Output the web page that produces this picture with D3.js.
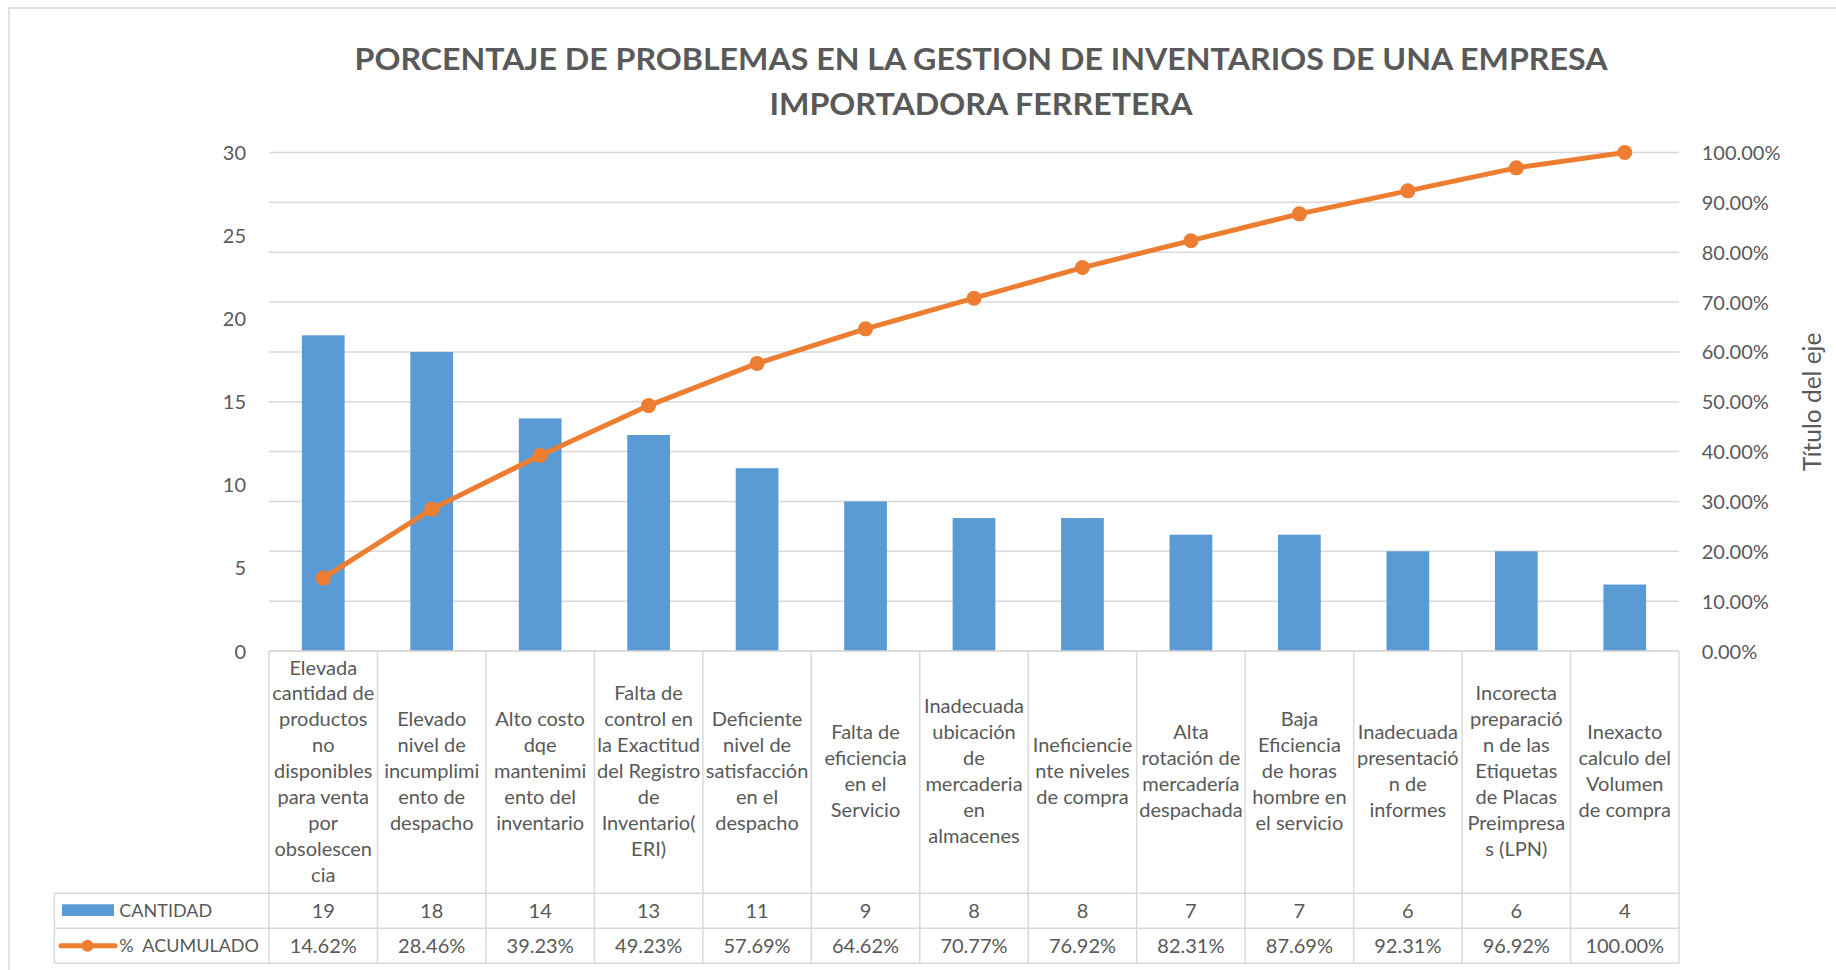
<!DOCTYPE html>
<html>
<head>
<meta charset="utf-8">
<script src="https://cdn.jsdelivr.net/npm/d3@7"></script>
<style>
  html, body { margin: 0; padding: 0; background: #ffffff; }
  svg { display: block; font-family: Lato, "Open Sans", sans-serif; }
  text { white-space: pre; }
</style>
</head>
<body>
<svg id="chart" width="1836" height="970"></svg>
<script>
// ---------- data ----------
const titleLines = ["PORCENTAJE DE PROBLEMAS EN LA GESTION DE INVENTARIOS DE UNA EMPRESA", "IMPORTADORA FERRETERA"];
const categories = [
  ["Elevada","cantidad de","productos","no","disponibles","para venta","por","obsolescen","cia"],
  ["Elevado","nivel de","incumplimi","ento de","despacho"],
  ["Alto costo","dqe","mantenimi","ento del","inventario"],
  ["Falta de","control en","la Exactitud","del Registro","de","Inventario(","ERI)"],
  ["Deficiente","nivel de","satisfacción","en el","despacho"],
  ["Falta de","eficiencia","en el","Servicio"],
  ["Inadecuada","ubicación","de","mercaderia","en","almacenes"],
  ["Ineficiencie","nte niveles","de compra"],
  ["Alta","rotación de","mercadería","despachada"],
  ["Baja","Eficiencia","de horas","hombre en","el servicio"],
  ["Inadecuada","presentació","n de","informes"],
  ["Incorecta","preparació","n de las","Etiquetas","de Placas","Preimpresa","s (LPN)"],
  ["Inexacto","calculo del","Volumen","de compra"]
];
const cantidad = [19, 18, 14, 13, 11, 9, 8, 8, 7, 7, 6, 6, 4];
const acumulado = [14.62, 28.46, 39.23, 49.23, 57.69, 64.62, 70.77, 76.92, 82.31, 87.69, 92.31, 96.92, 100.00];
const leftTicks = [0, 5, 10, 15, 20, 25, 30];
const rightTicks = [0, 10, 20, 30, 40, 50, 60, 70, 80, 90, 100];
const seriesNames = ["CANTIDAD", "%  ACUMULADO"];
const rightAxisTitle = "Título del eje";

// ---------- layout ----------
const TEXT = "#595959", GRID = "#d9d9d9", BLUE = "#5B9BD5", ORANGE = "#ED7D31";
const plotL = 269, plotR = 1679, plotT = 152.5, plotB = 651;
const catRowB = 893.3, row1B = 928.3, row2B = 963.3, legendL = 54.4;
const titleWidths = [1253, 423];

const svg = d3.select("#chart");
const idx = d3.range(categories.length);

const xCol = d3.scaleBand().domain(idx).range([plotL, plotR]).padding(0);
const xBar = d3.scaleBand().domain(idx).range([plotL, plotR]).paddingInner(0.606).paddingOuter(0.303);
const yL = d3.scaleLinear().domain([0, 30]).range([plotB, plotT]);
const yR = d3.scaleLinear().domain([0, 100]).range([plotB, plotT]);

// chart border
svg.append("rect").attr("x", 9).attr("y", 8).attr("width", 1860).attr("height", 1000)
  .attr("fill", "none").attr("stroke", GRID).attr("stroke-width", 1.5);

// title
svg.append("g").selectAll("text").data(titleLines).join("text")
  .attr("x", 981).attr("y", (d, i) => 70 + i * 45)
  .attr("text-anchor", "middle").attr("fill", TEXT)
  .attr("font-size", 31).attr("font-weight", "bold")
  .attr("textLength", (d, i) => titleWidths[i]).attr("lengthAdjust", "spacingAndGlyphs")
  .text(d => d);

// gridlines (secondary axis ticks)
svg.append("g").selectAll("line").data(rightTicks).join("line")
  .attr("x1", plotL).attr("x2", plotR)
  .attr("y1", d => yR(d)).attr("y2", d => yR(d))
  .attr("stroke", GRID).attr("stroke-width", 1.5);

// left axis
const axL = d3.axisLeft(yL).tickValues(leftTicks).tickSize(0).tickPadding(0).tickFormat(d3.format("d"));
const gL = svg.append("g").attr("transform", `translate(246,0)`).call(axL);
gL.select(".domain").remove();
gL.selectAll("text").attr("fill", TEXT).attr("font-size", 20).attr("font-family", "Lato").attr("dy", "0.35em");

// right axis
const axR = d3.axisRight(yR).tickValues(rightTicks).tickSize(0).tickPadding(0).tickFormat(d => d3.format(".2f")(d) + "%");
const gR = svg.append("g").attr("transform", `translate(1701.7,0)`).call(axR);
gR.select(".domain").remove();
gR.selectAll("text").attr("fill", TEXT).attr("font-size", 20).attr("font-family", "Lato").attr("dy", "0.35em");

svg.append("text").attr("transform", `translate(1811,${(plotT + plotB) / 2}) rotate(-90)`)
  .attr("text-anchor", "middle").attr("dominant-baseline", "central")
  .attr("fill", TEXT).attr("font-size", 24.5).text(rightAxisTitle);

// bars
svg.append("g").selectAll("rect").data(cantidad).join("rect")
  .attr("x", (d, i) => xBar(i)).attr("width", xBar.bandwidth())
  .attr("y", d => yL(d)).attr("height", d => yL(0) - yL(d))
  .attr("fill", BLUE);

// line
const line = d3.line().x((d, i) => xCol(i) + xCol.bandwidth() / 2).y(d => yR(d));
svg.append("path").datum(acumulado).attr("d", line)
  .attr("fill", "none").attr("stroke", ORANGE).attr("stroke-width", 5)
  .attr("stroke-linejoin", "round").attr("stroke-linecap", "round");
svg.append("g").selectAll("circle").data(acumulado).join("circle")
  .attr("cx", (d, i) => xCol(i) + xCol.bandwidth() / 2).attr("cy", d => yR(d))
  .attr("r", 7.5).attr("fill", ORANGE);

// ---------- data table ----------
const tbl = svg.append("g").attr("stroke", GRID).attr("stroke-width", 1.5);
tbl.append("line").attr("x1", plotL).attr("x2", plotR).attr("y1", plotB).attr("y2", plotB);
[catRowB, row1B, row2B].forEach(y => tbl.append("line").attr("x1", legendL).attr("x2", plotR).attr("y1", y).attr("y2", y));
tbl.append("line").attr("x1", legendL).attr("x2", legendL).attr("y1", catRowB).attr("y2", row2B);
tbl.selectAll(".v").data(idx.concat([categories.length])).join("line").attr("class", "v")
  .attr("x1", i => i < categories.length ? xCol(i) : plotR)
  .attr("x2", i => i < categories.length ? xCol(i) : plotR)
  .attr("y1", plotB).attr("y2", row2B);

// category labels
const lineH = 25.9, catMid = (plotB + catRowB) / 2 + 6;
const catG = svg.append("g").attr("fill", TEXT).attr("font-size", 20).attr("text-anchor", "middle");
categories.forEach((lines, i) => {
  const cx = xCol(i) + xCol.bandwidth() / 2;
  const t = catG.append("text").attr("x", cx).attr("y", catMid - (lines.length - 1) * lineH / 2).attr("dy", "0.35em");
  lines.forEach((ln, j) => {
    t.append("tspan").attr("x", cx).attr("dy", j === 0 ? 0 : lineH).text(ln);
  });
});

// values rows
const r1Mid = (catRowB + row1B) / 2, r2Mid = (row1B + row2B) / 2;
svg.append("g").selectAll("text").data(cantidad).join("text")
  .attr("x", (d, i) => xCol(i) + xCol.bandwidth() / 2).attr("y", r1Mid).attr("dy", "0.35em")
  .attr("text-anchor", "middle").attr("fill", TEXT).attr("font-size", 20).text(d => d);
svg.append("g").selectAll("text").data(acumulado).join("text")
  .attr("x", (d, i) => xCol(i) + xCol.bandwidth() / 2).attr("y", r2Mid).attr("dy", "0.35em")
  .attr("text-anchor", "middle").attr("fill", TEXT).attr("font-size", 20).text(d => d3.format(".2f")(d) + "%");

// legend keys
svg.append("rect").attr("x", 62).attr("y", 904.3).attr("width", 52).attr("height", 11.7).attr("fill", BLUE);
svg.append("line").attr("x1", 61).attr("x2", 115).attr("y1", r2Mid).attr("y2", r2Mid)
  .attr("stroke", ORANGE).attr("stroke-width", 5).attr("stroke-linecap", "round");
svg.append("circle").attr("cx", 87.5).attr("cy", r2Mid).attr("r", 6).attr("fill", ORANGE);
svg.append("g").selectAll("text").data(seriesNames).join("text")
  .attr("x", 119.3).attr("y", (d, i) => i === 0 ? r1Mid : r2Mid).attr("dy", "0.35em")
  .attr("fill", TEXT).attr("font-size", 18).text(d => d);
</script>
</body>
</html>
